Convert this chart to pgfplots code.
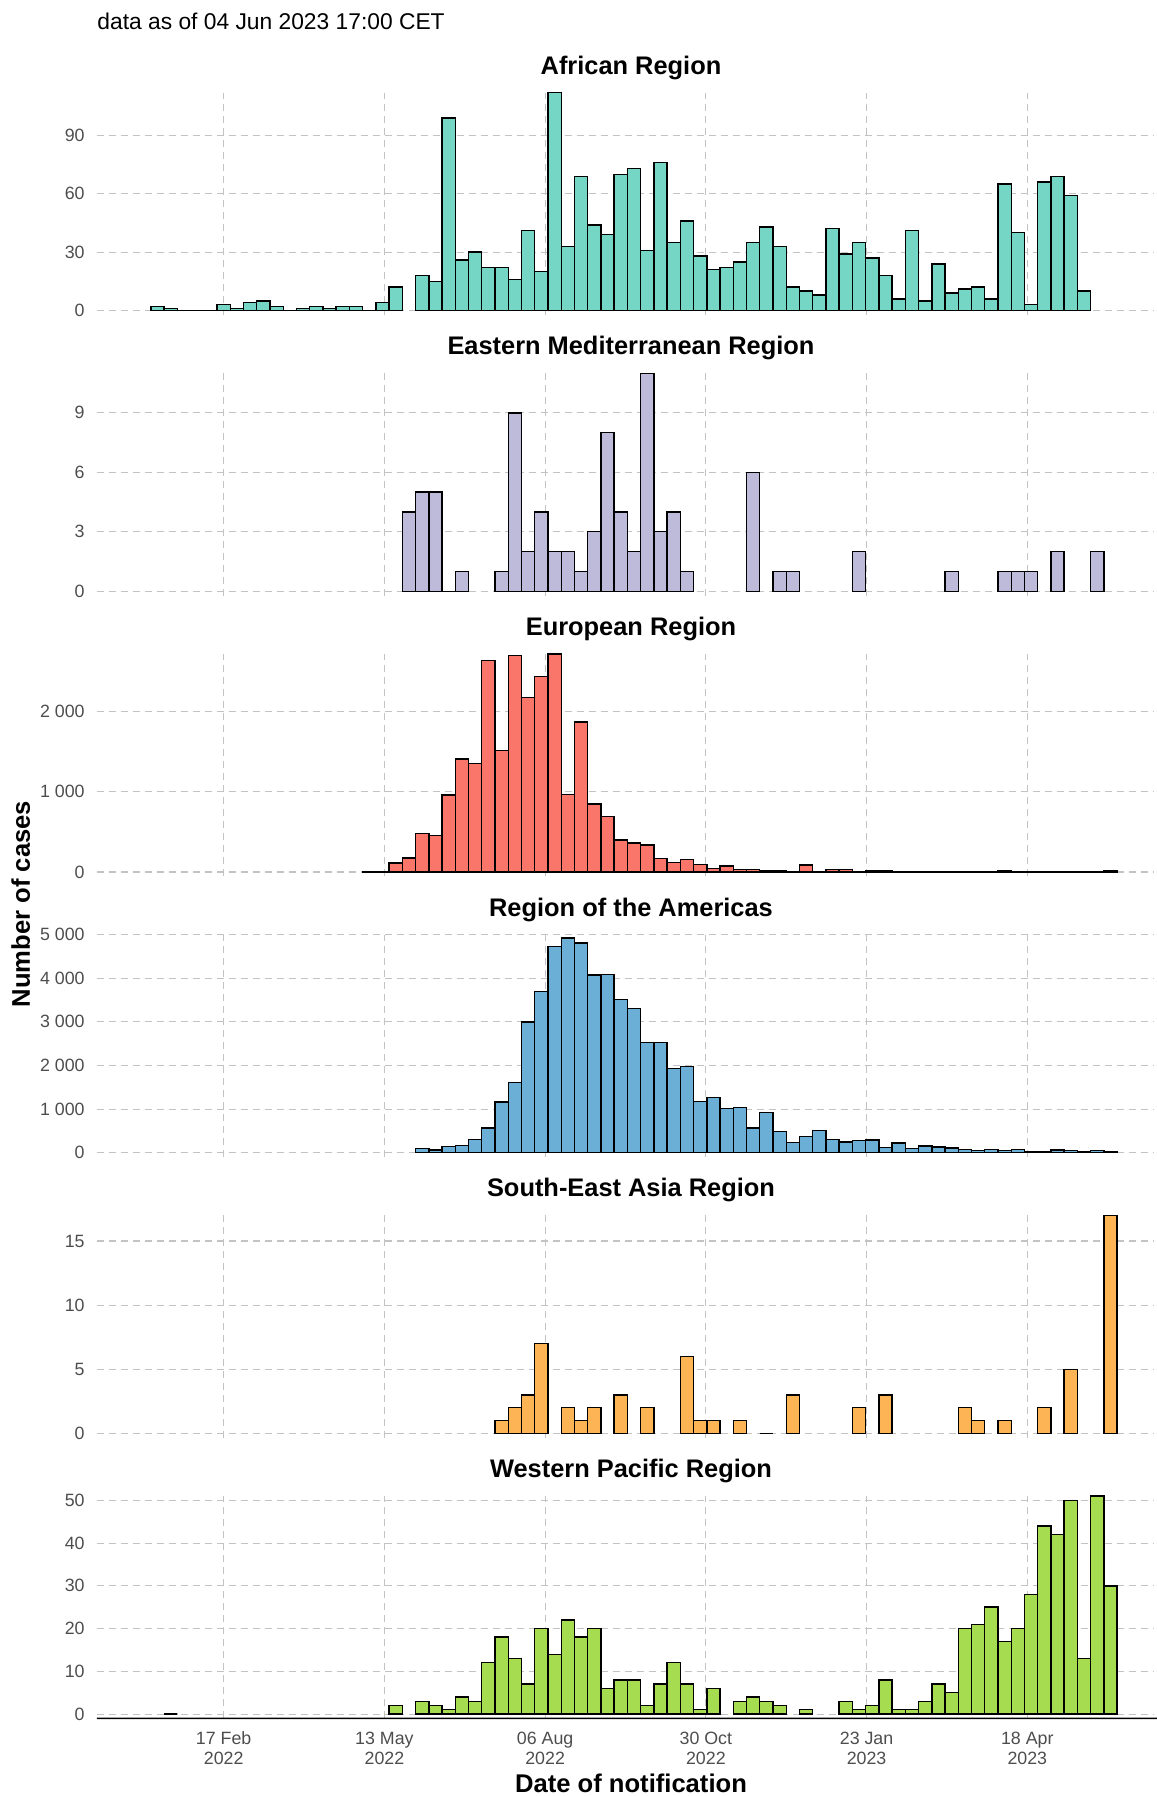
\documentclass[border=0pt]{standalone}
\usepackage{fontspec}
\setmainfont{Liberation Sans}
\usepackage{pgfplots}
\usepackage{pgfplotstable}
\pgfplotsset{compat=1.18}
\definecolor{afr}{RGB}{117,214,197}
\definecolor{emr}{RGB}{190,186,218}
\definecolor{eur}{RGB}{250,117,106}
\definecolor{amr}{RGB}{107,174,214}
\definecolor{sea}{RGB}{253,180,84}
\definecolor{wpr}{RGB}{166,220,80}
\definecolor{gridc}{RGB}{195,195,195}
\definecolor{tickc}{RGB}{77,77,77}

\pgfplotstableread{
x y
-35 2
-28 1
-21 0
-14 0
-7 0
0 3
7 1
14 4
21 5
28 2
35 0
42 1
49 2
56 1
63 2
70 2
77 0
84 4
91 12
105 18
112 15
119 99
126 26
133 30
140 22
147 22
154 16
161 41
168 20
175 112
182 33
189 69
196 44
203 39
210 70
217 73
224 31
231 76
238 35
245 46
252 28
259 21
266 22
273 25
280 35
287 43
294 33
301 12
308 10
315 8
322 42
329 29
336 35
343 27
350 18
357 6
364 41
371 5
378 24
385 9
392 11
399 12
406 6
413 65
420 40
427 3
434 66
441 69
448 59
455 10
}\afrdata

\pgfplotstableread{
x y
98 4
105 5
112 5
119 0
126 1
147 1
154 9
161 2
168 4
175 2
182 2
189 1
196 3
203 8
210 4
217 2
224 11
231 3
238 4
245 1
280 6
294 1
301 1
336 2
385 1
413 1
420 1
427 1
441 2
462 2
}\emrdata

\pgfplotstableread{
x y
77 3
84 5
91 110
98 175
105 480
112 455
119 960
126 1410
133 1355
140 2640
147 1515
154 2700
161 2180
168 2440
175 2722
182 970
189 1870
196 850
203 695
210 400
217 360
224 335
231 165
238 115
245 155
252 90
259 42
266 75
273 30
280 30
287 20
294 20
301 8
308 85
315 6
322 28
329 28
336 6
343 15
350 15
357 3
364 3
371 3
378 3
385 3
392 3
399 3
406 3
413 15
420 3
427 2
434 3
441 2
448 3
455 2
462 2
469 12
}\eurdata

\pgfplotstableread{
x y
105 90
112 60
119 143
126 165
133 308
140 564
147 1158
154 1602
161 3000
168 3699
175 4729
182 4925
189 4812
196 4075
203 4090
210 3511
217 3308
224 2526
231 2526
238 1925
245 1977
252 1180
259 1263
266 1015
273 1030
280 564
287 925
294 489
301 233
308 368
315 511
322 308
329 248
336 278
343 293
350 120
357 218
364 90
371 150
378 128
385 105
392 75
399 53
406 75
413 45
420 75
427 20
434 20
441 60
448 45
455 22
462 45
469 20
}\amrdata

\pgfplotstableread{
x y
147 1
154 2
161 3
168 7
182 2
189 1
196 2
210 3
224 2
245 6
252 1
259 1
273 1
287 0
301 3
336 2
350 3
392 2
399 1
413 1
434 2
448 5
469 17
}\seadata

\pgfplotstableread{
x y
-28 0
91 2
105 3
112 2
119 1
126 4
133 3
140 12
147 18
154 13
161 7
168 20
175 14
182 22
189 18
196 20
203 6
210 8
217 8
224 2
231 7
238 12
245 7
252 1
259 6
273 3
280 4
287 3
294 2
308 1
329 3
336 1
343 2
350 8
357 1
364 1
371 3
378 7
385 5
392 20
399 21
406 25
413 17
420 20
427 28
434 44
441 42
448 50
455 13
462 51
469 30
}\wprdata

\pgfplotsset{
  panel/.style={
    scale only axis, width=528.5pt, height=111.2pt,
    anchor=south west,
    xmin=-67, xmax=492,
    xtick={0,85,170,255,340,425},
    xticklabel={\phantom{0}},
    axis line style={draw=none},
    major tick length=0pt,
    xmajorgrids, ymajorgrids,
    major grid style={draw=gridc, line width=0.55pt, dash pattern=on 3.5pt off 2.5pt},
    tick label style={font=\fontsize{8.9}{10}\selectfont, text=tickc},
    yticklabel style={anchor=east, inner sep=0pt, xshift=-6pt},
    /pgf/number format/assume math mode=true,
    /pgf/number format/1000 sep={\ },
    scaled y ticks=false,
    clip=false,
  },
  bars/.style={ybar, bar width=7, bar shift=0pt, draw=black, line width=0.7pt, fill=#1},
}

\begin{document}
\begin{tikzpicture}
\useasboundingbox (0,0) rectangle (578.5pt,-898pt);

\node[anchor=west, inner sep=0pt, font=\fontsize{11.4}{13}\selectfont] at (48.5pt,-10.5pt) {data as of 04 Jun 2023 17:00 CET};

\begin{axis}[panel, at={(48.5pt,-157.45pt)}, ymin=-2.24, ymax=112, ytick={0,30,60,90}]
\addplot[bars=afr] table[x=x,y=y] {\afrdata};
\end{axis}
\node[font=\fontsize{12.7}{15}\selectfont\bfseries] at (315.5pt,-33.75pt) {African Region};

\begin{axis}[panel, at={(48.5pt,-297.8pt)}, ymin=-0.22, ymax=11, ytick={0,3,6,9}]
\addplot[bars=emr] table[x=x,y=y] {\emrdata};
\end{axis}
\node[font=\fontsize{12.7}{15}\selectfont\bfseries] at (315.5pt,-174.1pt) {Eastern Mediterranean Region};

\begin{axis}[panel, at={(48.5pt,-438.15pt)}, ymin=-54.4, ymax=2722, ytick={0,1000,2000}]
\addplot[bars=eur] table[x=x,y=y] {\eurdata};
\end{axis}
\node[font=\fontsize{12.7}{15}\selectfont\bfseries] at (315.5pt,-314.45pt) {European Region};

\begin{axis}[panel, at={(48.5pt,-578.5pt)}, ymin=-100, ymax=5000, ytick={0,1000,2000,3000,4000,5000}]
\addplot[bars=amr] table[x=x,y=y] {\amrdata};
\end{axis}
\node[font=\fontsize{12.7}{15}\selectfont\bfseries] at (315.5pt,-454.8pt) {Region of the Americas};

\begin{axis}[panel, at={(48.5pt,-718.85pt)}, ymin=-0.34, ymax=17, ytick={0,5,10,15}]
\addplot[bars=sea] table[x=x,y=y] {\seadata};
\end{axis}
\node[font=\fontsize{12.7}{15}\selectfont\bfseries] at (315.5pt,-595.15pt) {South-East Asia Region};

\begin{axis}[panel, at={(48.5pt,-859.2pt)}, ymin=-1.02, ymax=51, ytick={0,10,20,30,40,50},
  xticklabels={{17 Feb\\2022},{13 May\\2022},{06 Aug\\2022},{30 Oct\\2022},{23 Jan\\2023},{18 Apr\\2023}},
  xticklabel style={align=center, anchor=north, inner sep=0pt, yshift=-6.6pt}]
\addplot[bars=wpr] table[x=x,y=y] {\wprdata};
\draw[black, line width=0.8pt] (rel axis cs:0,0) -- (rel axis cs:1,0) -- ++(2pt,0);
\end{axis}
\node[font=\fontsize{12.7}{15}\selectfont\bfseries] at (315.5pt,-735.5pt) {Western Pacific Region};

\node[font=\fontsize{12.8}{15}\selectfont\bfseries] at (315.5pt,-891.5pt) {Date of notification};
\node[font=\fontsize{12.8}{15}\selectfont\bfseries, rotate=90] at (10.35pt,-452pt) {Number of cases};
\end{tikzpicture}
\end{document}
